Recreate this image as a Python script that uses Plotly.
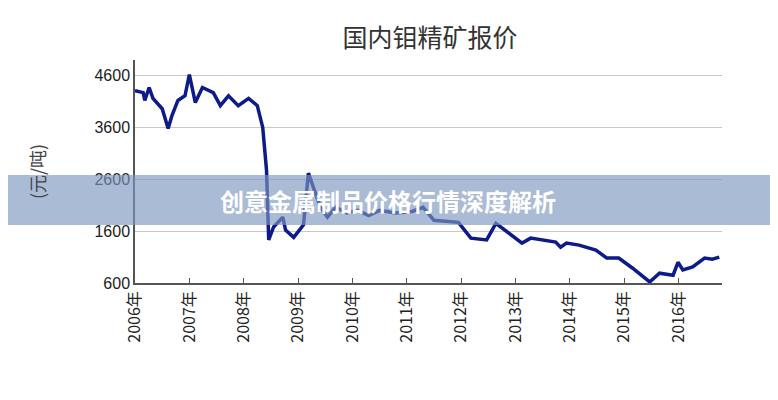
import plotly.graph_objects as go

years = [2006.0,2006.15,2006.18,2006.26,2006.33,2006.5,2006.61,2006.68,2006.79,2006.92,2007.0,2007.11,2007.24,2007.44,2007.57,2007.72,2007.9,2008.09,2008.25,2008.35,2008.42,2008.46,2008.55,2008.72,2008.77,2008.92,2009.1,2009.19,2009.41,2009.54,2009.69,2009.9,2010.1,2010.3,2010.5,2010.8,2011.1,2011.3,2011.5,2011.95,2012.18,2012.47,2012.64,2012.88,2013.12,2013.28,2013.74,2013.83,2013.94,2014.17,2014.48,2014.68,2014.9,2015.15,2015.47,2015.65,2015.9,2015.99,2016.08,2016.26,2016.48,2016.62,2016.75]
prices = [4310,4270,4120,4370,4160,3960,3580,3830,4120,4210,4620,4080,4370,4270,4020,4210,4020,4160,4020,3600,2770,1430,1680,1870,1620,1480,1720,2720,2060,1870,2060,1950,2000,1900,2000,1950,1980,2060,1810,1770,1465,1430,1750,1560,1370,1465,1390,1290,1370,1330,1235,1080,1080,890,620,790,750,1000,850,910,1080,1060,1100]
tick_years = list(range(2006, 2017))
tick_labels = [f"{y}年" for y in tick_years]
y_ticks = [600, 1600, 2600, 3600, 4600]

L, R, T, B = 127, 64, 52, 125
PW, PH = 778 - L - R, 400 - T - B

fig = go.Figure(go.Scatter(x=years, y=prices, mode="lines",
                           line=dict(color="#0d1a8a", width=3.5, shape="linear")))
fig.update_layout(
    width=778, height=400, plot_bgcolor="white", paper_bgcolor="white",
    margin=dict(l=L, r=R, t=T, b=B), showlegend=False,
    title=dict(text="国内钼精矿报价", x=422/778, xanchor="center", y=1-30/400, yanchor="middle",
               font=dict(family="Noto Sans CJK SC", size=25, color="#333")),
    font=dict(family="Liberation Sans", color="#222"),
)
fig.update_xaxes(range=[2006, 2016.8], tickvals=tick_years, ticktext=tick_labels,
                 tickangle=-90, ticks="inside", ticklen=5, tickcolor="#555", automargin=False,
                 showline=True, linecolor="#555", linewidth=1.5, showgrid=False,
                 tickfont=dict(size=16, family="Noto Sans CJK SC", color="#222"))
fig.update_yaxes(range=[600, 4900], tickvals=y_ticks, showgrid=True, gridcolor="#c8c8c8",
                 showline=True, linecolor="#555", linewidth=1.5, zeroline=False, automargin=False,
                 tickfont=dict(size=16, color="#222"),
                 title=dict(text="(元/吨)", standoff=44,
                            font=dict(size=18, family="Noto Sans CJK SC", color="#444")))
fig.add_shape(type="rect", xref="paper", yref="paper", x0=-L/PW, x1=1+R/PW,
              y0=(275-217)/PH, y1=(275-167)/PH, line=dict(width=0),
              fillcolor="rgba(125,150,190,0.65)", layer="above")
fig.add_annotation(text="<b>创意金属制品价格行情深度解析</b>", xref="paper", yref="paper",
                   x=(380-L)/PW, y=(275-192)/PH, showarrow=False,
                   font=dict(size=24, color="white", family="Noto Sans CJK SC"))
fig.write_html("out.html")
